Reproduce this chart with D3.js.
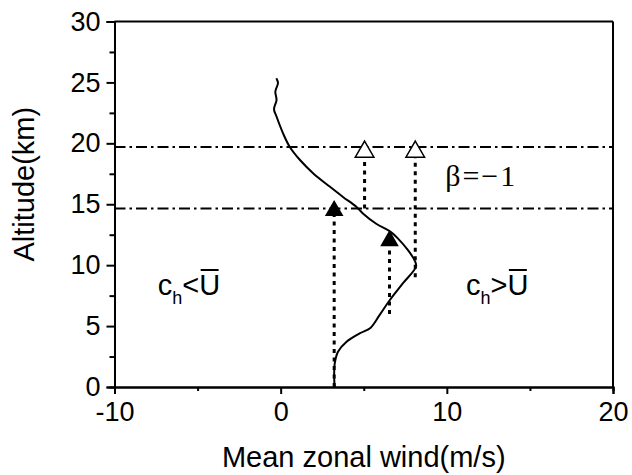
<!DOCTYPE html>
<html>
<head>
<meta charset="utf-8">
<script src="https://cdn.jsdelivr.net/npm/d3@7"></script>
<style>
  html, body { margin: 0; padding: 0; background: #fff; }
  svg { display: block; }
</style>
</head>
<body>
<div id="chart"></div>
<script>
// mean zonal wind profile (m/s) vs altitude (km)
const windSpeed = [3.25, 3.22, 3.25, 3.45, 3.95, 4.75, 5.4, 5.95, 6.55, 7.35, 8.15, 8.06, 7.65, 7.05, 6.6, 5.75, 4.95, 4.55, 3.75, 2.95, 1.95, 1.15, 0.55, 0.15, -0.25, -0.4, -0.25, -0.32, -0.16, -0.26];
const altitude  = [0, 0.8, 1.9, 2.9, 3.7, 4.4, 4.85, 5.9, 7.1, 8.5, 9.9, 10.4, 11.25, 12.2, 12.75, 13.4, 14.25, 14.8, 15.6, 16.45, 17.55, 18.65, 19.7, 20.8, 22.2, 22.8, 23.55, 24.25, 24.95, 25.35];

// horizontal dash-dot levels (km)
const levels = [19.7, 14.65];

// triangle markers: phase speed and altitude
const filledSpeed = [3.22, 6.55];
const filledAlt   = [14.47, 12.0];
const openSpeed   = [5.05, 8.1];
const openAlt     = [19.3, 19.3];

// dotted vertical drops: speed, from, to
const dropSpeed = [3.22, 6.55, 5.05, 8.1];
const dropFrom  = [0, 6.0, 14.65, 9.0];
const dropTo    = [14.2, 11.8, 19.0, 19.0];

const xTicks = [-10, 0, 10, 20];
const xMinor = [-5, 5, 15];
const yTicks = [0, 5, 10, 15, 20, 25, 30];
const yMinor = [2.5, 7.5, 12.5, 17.5, 22.5, 27.5];

const W = 632, H = 475;
const margin = { top: 21.5, right: 19, bottom: 88, left: 114.5 };
const width = W - margin.left - margin.right;
const height = H - margin.top - margin.bottom;

const svg = d3.select("#chart").append("svg")
  .attr("width", W)
  .attr("height", H);

const g = svg.append("g")
  .attr("transform", `translate(${margin.left},${margin.top})`);

const x = d3.scaleLinear().domain([-10, 20]).range([0, width]);
const y = d3.scaleLinear().domain([0, 30]).range([height, 0]);

const font = "Arial, 'Liberation Sans', Helvetica, sans-serif";

// axes (plain hyphen for negatives, like the original)
const fmt = d => String(d);
g.append("g")
  .attr("transform", `translate(0,${height})`)
  .call(d3.axisBottom(x).tickValues(xTicks).tickSize(7).tickPadding(8).tickFormat(fmt));
g.append("g")
  .attr("transform", `translate(0,${height})`)
  .call(d3.axisBottom(x).tickValues(xMinor).tickSize(4).tickFormat(""));
g.append("g")
  .call(d3.axisLeft(y).tickValues(yTicks).tickSize(8).tickPadding(6).tickFormat(fmt));
g.append("g")
  .call(d3.axisLeft(y).tickValues(yMinor).tickSize(5).tickFormat(""));

g.selectAll(".domain").attr("stroke", "#000").attr("stroke-width", 2);
g.selectAll(".tick line").attr("stroke", "#000").attr("stroke-width", 2);
g.selectAll(".tick text")
  .style("font-family", font)
  .style("font-size", "27px")
  .attr("fill", "#000");

// top and right frame
g.append("line").attr("x1", 0).attr("x2", width).attr("y1", 0).attr("y2", 0)
  .attr("stroke", "#000").attr("stroke-width", 2);
g.append("line").attr("x1", width).attr("x2", width).attr("y1", 0).attr("y2", height)
  .attr("stroke", "#000").attr("stroke-width", 2);

// dash-dot levels
g.selectAll(".level")
  .data(levels)
  .join("line")
  .attr("class", "level")
  .attr("x1", 0).attr("x2", width)
  .attr("y1", d => y(d)).attr("y2", d => y(d))
  .attr("stroke", "#000")
  .attr("stroke-width", 1.8)
  .attr("stroke-dasharray", "11,4,2.5,4");

// dotted drops
g.selectAll(".drop")
  .data(dropSpeed.map((s, i) => ({ s, a: dropFrom[i], b: dropTo[i] })))
  .join("line")
  .attr("class", "drop")
  .attr("x1", d => x(d.s)).attr("x2", d => x(d.s))
  .attr("y1", d => y(d.a)).attr("y2", d => y(d.b))
  .attr("stroke", "#000")
  .attr("stroke-width", 3)
  .attr("stroke-dasharray", "4,4.5");

// wind profile
const profile = windSpeed.map((u, i) => [u, altitude[i]]);
g.append("path")
  .datum(profile)
  .attr("fill", "none")
  .attr("stroke", "#000")
  .attr("stroke-width", 2)
  .attr("d", d3.line().x(d => x(d[0])).y(d => y(d[1])).curve(d3.curveCatmullRom.alpha(0.5)));

// triangle markers
const tri = d3.symbol().type(d3.symbolTriangle).size(150);
g.selectAll(".filled")
  .data(filledSpeed.map((s, i) => [s, filledAlt[i]]))
  .join("path")
  .attr("class", "filled")
  .attr("transform", d => `translate(${x(d[0])},${y(d[1])})`)
  .attr("d", tri)
  .attr("fill", "#000");
g.selectAll(".open")
  .data(openSpeed.map((s, i) => [s, openAlt[i]]))
  .join("path")
  .attr("class", "open")
  .attr("transform", d => `translate(${x(d[0])},${y(d[1])})`)
  .attr("d", tri)
  .attr("fill", "#fff")
  .attr("stroke", "#000")
  .attr("stroke-width", 1.5);

// c_h < U-bar labels
const phaseLabel = (u, alt, sign) => {
  const lab = g.append("g").attr("transform", `translate(${x(u)},${y(alt)})`);
  const c = lab.append("text").text("c").attr("x", 0).attr("y", 0)
    .style("font-family", font).style("font-size", "29px");
  let cx = c.node().getComputedTextLength();
  const h = lab.append("text").text("h").attr("x", cx).attr("y", 9)
    .style("font-family", font).style("font-size", "18px");
  cx += h.node().getComputedTextLength();
  const s = lab.append("text").text(sign).attr("x", cx).attr("y", 0)
    .style("font-family", font).style("font-size", "29px");
  cx += s.node().getComputedTextLength();
  const U = lab.append("text").text("U").attr("x", cx).attr("y", 0)
    .style("font-family", font).style("font-size", "29px");
  const bb = U.node().getBBox();
  lab.append("line")
    .attr("x1", bb.x + 1.5).attr("x2", bb.x + bb.width - 1.5)
    .attr("y1", -25).attr("y2", -25)
    .attr("stroke", "#000").attr("stroke-width", 2);
};
phaseLabel(-7.4, 7.55, "<");
phaseLabel(11.15, 7.55, ">");

// beta label
g.append("text")
  .attr("x", x(9.9))
  .attr("y", y(16.5))
  .text("β=−1")
  .style("font-family", "'Times New Roman', 'Liberation Serif', serif")
  .style("font-size", "30px")
  .style("letter-spacing", "2px");

// axis titles
g.append("text")
  .attr("x", width / 2)
  .attr("y", height + 80)
  .attr("text-anchor", "middle")
  .text("Mean zonal wind(m/s)")
  .style("font-family", font)
  .style("font-size", "29px");

g.append("text")
  .attr("transform", `translate(${34 - margin.left},${height / 2 - 20}) rotate(-90)`)
  .attr("text-anchor", "middle")
  .text("Altitude(km)")
  .style("font-family", font)
  .style("font-size", "29px");
</script>
</body>
</html>
